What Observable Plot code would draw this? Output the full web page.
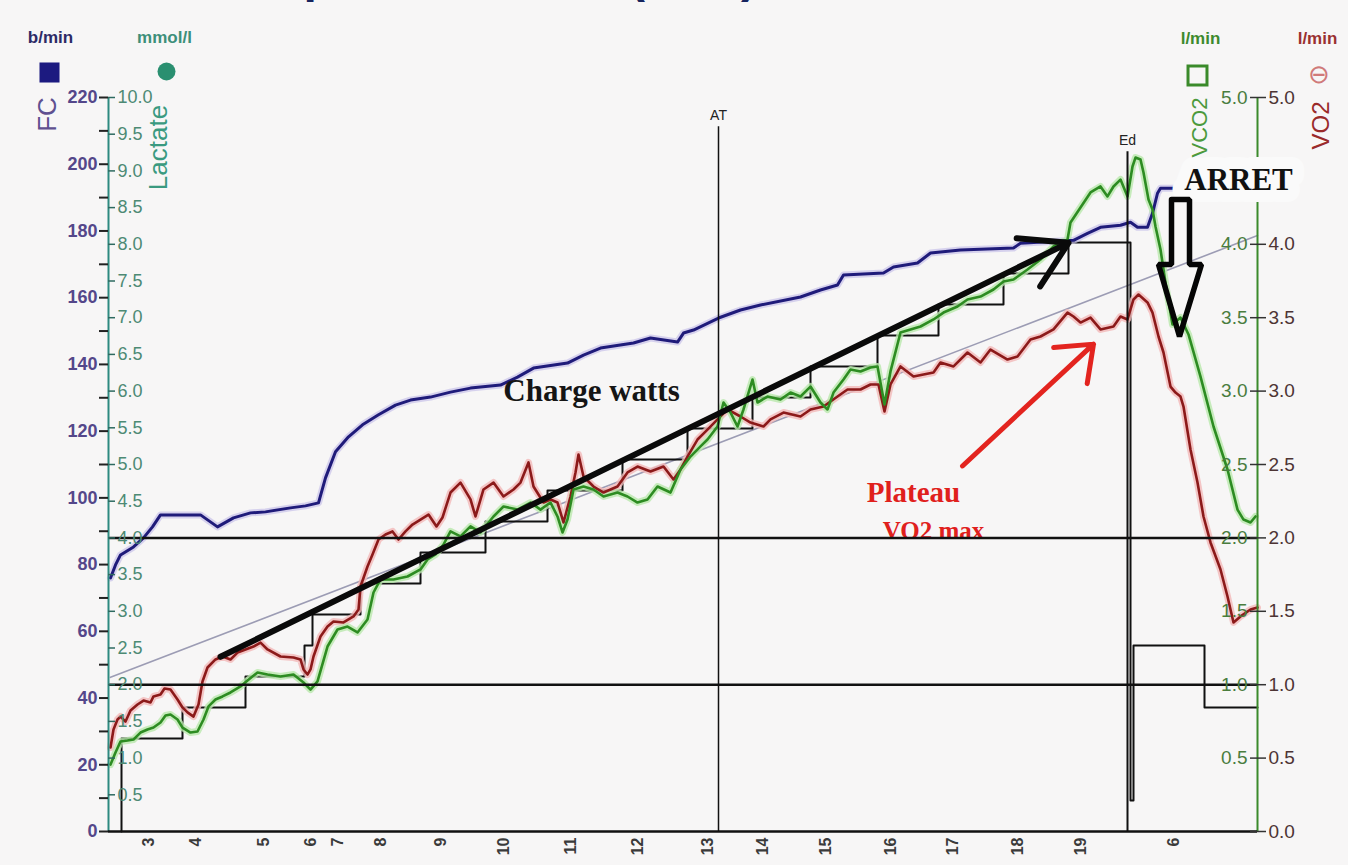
<!DOCTYPE html>
<html>
<head>
<meta charset="utf-8">
<script src="https://cdn.jsdelivr.net/npm/d3@7"></script>
<script src="https://cdn.jsdelivr.net/npm/@observablehq/plot@0.6"></script>
<style>
  html, body { margin: 0; padding: 0; background: #f7f6f6; }
  #chart { width: 1348px; height: 865px; overflow: hidden; }
</style>
</head>
<body>
<div id="chart"></div>
<script>
// Épreuve d'effort : FC, VO2, VCO2, charge (paliers) en fonction du rang d'échantillon.
// Chaque point : [rang, valeur].

// Fréquence cardiaque (b/min)
const fcData = [
  [2,76.0],[7,79.9],[12,82.9],[25,85.3],[35,88.0],[44,91.3],[52,94.9],[92,94.9],[109,91.3],
  [125,94.0],[142,95.5],[157,95.8],[182,97.0],[197,97.6],[210,98.5],[217,106.0],[227,113.8],
  [240,118.3],[254,121.9],[270,124.9],[287,127.8],[302,129.3],[322,130.2],[342,131.7],[362,132.9],
  [392,133.8],[409,136.2],[425,138.9],[459,140.4],[475,142.8],[492,144.9],[525,146.4],[542,147.9],
  [569,146.7],[575,149.4],[585,150.3],[610,153.9],[632,156.3],[652,157.8],[692,160.2],[712,162.3],
  [729,163.8],[735,166.8],[775,167.4],[785,169.2],[809,170.4],[822,173.4],[852,174.3],[905,174.9],
  [912,176.3],[965,177.2],[979,179.3],[992,181.1],[1012,181.7],[1022,182.6],[1029,181.1],
  [1039,181.1],[1044,185.3],[1049,191.3],[1052,192.8],[1069,192.8]
];

// VO2 (l/min)
const vo2Data = [
  [2,0.572],[5,0.695],[9,0.763],[12,0.783],[17,0.749],[22,0.824],[29,0.865],[35,0.892],[42,0.879],
  [45,0.920],[52,0.933],[56,0.974],[62,0.967],[69,0.899],[74,0.845],[79,0.811],[85,0.783],[90,0.865],
  [94,1.022],[99,1.117],[107,1.172],[114,1.192],[122,1.172],[129,1.219],[137,1.240],[145,1.260],
  [152,1.287],[159,1.240],[172,1.192],[185,1.185],[192,1.172],[195,1.104],[199,1.069],[202,1.104],
  [205,1.192],[212,1.328],[219,1.396],[225,1.431],[235,1.424],[245,1.465],[250,1.512],[252,1.669],
  [259,1.805],[264,1.887],[270,1.989],[277,2.023],[284,2.044],[290,1.989],[297,2.044],[304,2.091],
  [312,2.125],[320,2.159],[328,2.078],[334,2.139],[342,2.309],[352,2.377],[362,2.262],[367,2.146],
  [375,2.330],[385,2.377],[395,2.282],[405,2.330],[412,2.377],[420,2.514],[425,2.350],[435,2.241],
  [442,2.262],[449,2.241],[455,2.105],[462,2.282],[467,2.446],[470,2.568],[475,2.418],[485,2.350],
  [495,2.309],[509,2.350],[519,2.446],[529,2.486],[542,2.452],[555,2.486],[565,2.398],[572,2.466],
  [579,2.554],[589,2.670],[599,2.738],[609,2.807],[619,2.875],[632,2.827],[642,2.786],[655,2.759],
  [662,2.807],[675,2.854],[692,2.827],[702,2.875],[715,2.895],[729,2.963],[739,3.011],[752,3.011],
  [762,3.045],[770,3.045],[776,2.861],[782,3.045],[792,3.168],[805,3.099],[825,3.127],[832,3.195],
  [845,3.168],[859,3.263],[872,3.195],[882,3.283],[899,3.215],[909,3.236],[922,3.351],[932,3.372],
  [945,3.420],[959,3.535],[965,3.508],[972,3.467],[982,3.501],[992,3.420],[1005,3.440],[1012,3.508],
  [1019,3.488],[1025,3.624],[1030,3.658],[1039,3.604],[1044,3.535],[1050,3.372],[1055,3.263],
  [1062,3.031],[1067,2.990],[1072,2.963],[1075,2.895],[1082,2.602],[1089,2.377],[1095,2.146],
  [1102,1.969],[1112,1.785],[1119,1.601],[1125,1.424],[1132,1.465],[1142,1.512],[1149,1.526]
];

// VCO2 (l/min)
const vco2Data = [
  [2,0.456],[7,0.538],[12,0.613],[19,0.620],[25,0.627],[32,0.674],[39,0.695],[45,0.708],[52,0.743],
  [57,0.790],[62,0.797],[69,0.763],[74,0.708],[82,0.674],[89,0.681],[95,0.763],[100,0.852],[107,0.899],
  [114,0.920],[122,0.947],[132,0.988],[139,1.029],[149,1.083],[159,1.069],[172,1.056],[185,1.069],
  [195,1.015],[202,0.967],[209,1.022],[219,1.260],[229,1.376],[239,1.396],[249,1.356],[259,1.444],
  [265,1.628],[272,1.717],[285,1.717],[299,1.737],[312,1.785],[319,1.853],[327,1.887],[335,1.955],
  [342,2.044],[352,2.010],[362,2.078],[372,2.037],[385,2.146],[395,2.214],[409,2.193],[422,2.241],
  [432,2.193],[442,2.241],[449,2.146],[454,2.037],[459,2.125],[465,2.330],[475,2.350],[485,2.330],
  [495,2.282],[509,2.309],[519,2.282],[529,2.241],[539,2.262],[549,2.350],[562,2.309],[572,2.466],
  [582,2.554],[592,2.623],[599,2.670],[609,2.759],[615,2.922],[622,2.854],[629,2.759],[635,2.875],
  [644,3.079],[649,2.922],[659,2.963],[672,2.943],[682,2.990],[692,2.963],[702,3.031],[712,2.922],
  [719,2.875],[725,2.990],[735,3.079],[742,3.147],[752,3.134],[762,3.161],[769,3.168],[776,2.909],
  [782,3.134],[792,3.399],[802,3.420],[812,3.440],[825,3.488],[835,3.535],[849,3.576],[859,3.624],
  [872,3.644],[885,3.692],[895,3.747],[905,3.760],[919,3.828],[932,3.896],[945,3.985],[959,4.033],
  [962,4.149],[972,4.251],[982,4.353],[992,4.394],[999,4.326],[1005,4.394],[1012,4.441],[1019,4.326],
  [1024,4.530],[1027,4.591],[1032,4.578],[1035,4.489],[1040,4.305],[1044,4.237],[1047,4.121],
  [1052,3.965],[1058,3.692],[1064,3.454],[1072,3.501],[1080,3.386],[1092,3.099],[1105,2.759],
  [1119,2.466],[1129,2.193],[1135,2.125],[1142,2.105],[1147,2.146]
];

// Charge (W) par palier : [rang de début, watts]
const loadSteps = [
  [13,0],[13,60],[74,80],[137,100],[196,120],[204,140],[252,160],[312,180],[377,200],[439,220],
  [514,240],[579,260],[644,280],[702,300],[769,320],[830,340],[895,360],[960,380],[1022,20],
  [1025,120],[1096,80],[1149,80]
];
const wattsPerUnit = 94.7; // 5 l/min of height correspond to 473.5 W

// Droite de référence (l/min)
const refLine = [[2,1.05],[1149,4.06]];

// Seuils lactiques (mmol/l)
const lactateThresholds = [2, 4];

// Repères verticaux
const markers = [
  {label: "AT", rang: 610, top: 4.80, width: 1.5},
  {label: "Ed", rang: 1019, top: 4.63, width: 2}
];

// Graduations
const fcTickValues = [0,10,20,30,40,50,60,70,80,90,100,110,120,130,140,150,160,170,180,190,200,210,220];
const fcTickLabels = [0,20,40,60,80,100,120,140,160,180,200,220];
const lactateTickLabels = [0.5,1,1.5,2,2.5,3,3.5,4,4.5,5,5.5,6,6.5,7,7.5,8,8.5,9,9.5,10];
const vco2TickLabels = [0.5,1,1.5,2,2.5,3,3.5,4,5];
const vo2TickLabels = [0,0.5,1,1.5,2,2.5,3,3.5,4,5];
const minuteRang = [40,87,155,202,229,272,332,395,462,529,599,654,717,782,844,909,972,1065];
const minuteLabels = ["3","4","5","6","7","8","9","10","11","12","13","14","15","16","17","18","19","6"];

// Annotations
const textNotes = [
  {text: "Charge watts", rang: 483, y: 3.00, fill: "#151515", size: 31, spacing: "0px"},
  {text: "Plateau", rang: 805, y: 2.31, fill: "#e0201c", size: 29, spacing: "2px"},
  {text: "VO2 max", rang: 825, y: 2.05, fill: "#e0201c", size: 25, spacing: "0px"}
];
const chargeArrow = [{x1: 112, y1: 1.19, x2: 960, y2: 4.01}];
const plateauArrow = [{x1: 854, y1: 2.49, x2: 985, y2: 3.32}];
const arretNote = [{text: "ARRET", rang: 1130, y: 4.44}];
const arretArrow = [[1063,4.305],[1081,4.305],[1081,3.862],[1093,3.862],[1071,3.372],[1050,3.862],[1063,3.862],[1063,4.305]];

// ---- conversions to the shared vertical scale (0–5, right axis in l/min) ----
const series = (arr, k) => arr.map(([i, v]) => ({i, y: v / k}));
const fcPts = series(fcData, 44);            // 220 b/min ↔ 5
const vo2Pts = series(vo2Data, 1);
const vco2Pts = series(vco2Data, 1);
const loadPts = series(loadSteps, wattsPerUnit);
const refPts = series(refLine, 1);
const arretPts = series(arretArrow, 1);
const xTicks = minuteRang.map((i, k) => ({i, label: minuteLabels[k]}));

const sans = "Liberation Sans, Arial, sans-serif";
const serif = "Liberation Serif, Times New Roman, serif";

// header text helper: centred at an offset from a frame corner
const head = (txt, corner, dx, dy, opts) => Plot.text([txt], {
  frameAnchor: corner, dx, dy, textAnchor: "middle", lineAnchor: "middle", ...opts
});

const chart = Plot.plot({
  width: 1348,
  height: 865,
  marginLeft: 108,
  marginRight: 91,
  marginTop: 97,
  marginBottom: 34,
  x: {domain: [0, 1149], axis: null},
  y: {domain: [0, 5], label: null},
  style: {background: "transparent", fontFamily: sans, overflow: "visible"},
  marks: [
    // reference line
    Plot.line(refPts, {x: "i", y: "y", stroke: "#9c9cb4", strokeWidth: 1.6}),
    // workload steps
    Plot.line(loadPts, {x: "i", y: "y", curve: "step-after", stroke: "#111", strokeWidth: 2}),
    // halos
    Plot.line(fcPts, {x: "i", y: "y", stroke: "#c8c2ea", strokeWidth: 7, strokeOpacity: 0.7}),
    Plot.line(vo2Pts, {x: "i", y: "y", stroke: "#f3b9b9", strokeWidth: 7, strokeOpacity: 0.8}),
    Plot.line(vco2Pts, {x: "i", y: "y", stroke: "#b9e8ad", strokeWidth: 7, strokeOpacity: 0.8}),
    // series
    Plot.line(fcPts, {x: "i", y: "y", stroke: "#1f1b7a", strokeWidth: 3}),
    Plot.line(vo2Pts, {x: "i", y: "y", stroke: "#8c1a1a", strokeWidth: 2.6}),
    Plot.line(vco2Pts, {x: "i", y: "y", stroke: "#2d8c22", strokeWidth: 2.6}),
    // annotation text (below the threshold line)
    ...textNotes.map(d => Plot.text([d], {x: "rang", y: "y", text: "text", fill: d.fill, fontSize: d.size,
      fontFamily: serif, fontWeight: "bold", letterSpacing: d.spacing})),
    // lactate thresholds
    Plot.ruleY(lactateThresholds.map(l => l / 2), {stroke: "#111", strokeWidth: 2.5}),
    // AT / Ed markers
    Plot.ruleX(markers, {x: "rang", y1: 0, y2: "top", stroke: "#111", strokeWidth: "width"}),
    Plot.text(markers, {x: "rang", y: "top", text: "label", dy: -11, fontSize: 14, fill: "#222"}),
    // arrows
    Plot.arrow(chargeArrow, {x1: "x1", y1: "y1", x2: "x2", y2: "y2", stroke: "#0a0a0a",
      strokeWidth: 6, headLength: 13, headAngle: 62}),
    Plot.arrow(plateauArrow, {x1: "x1", y1: "y1", x2: "x2", y2: "y2", stroke: "#e3241f",
      strokeWidth: 5, headLength: 12, headAngle: 76}),
    // axes lines
    Plot.ruleX([0], {y1: 0, y2: 5, stroke: "#2e8a80", strokeWidth: 2}),
    Plot.ruleX([1149], {y1: 0, y2: 5, stroke: "#3b8a2b", strokeWidth: 2}),
    Plot.ruleY([0], {stroke: "#111", strokeWidth: 2.5}),
    // ARRET label on a white patch
    Plot.text(arretNote, {x: "rang", y: "y", text: "text", fontSize: 31, fontFamily: serif,
      fontWeight: "bold", fill: "#111", stroke: "#fafafa", strokeWidth: 24, paintOrder: "stroke"}),
    Plot.line(arretPts, {x: "i", y: "y", stroke: "#050505", strokeWidth: 5.5, strokeLinejoin: "miter"}),
    // left axis ticks
    Plot.axisY(fcTickValues.map(v => v / 44), {anchor: "left", tickSize: 9, tickFormat: () => "",
      stroke: "#222", strokeWidth: 2, label: null}),
    Plot.axisY(lactateTickLabels.map(v => v / 2), {anchor: "left", tickSize: -7, tickFormat: () => "",
      stroke: "#2e6a60", strokeWidth: 1.5, label: null}),
    Plot.text(fcTickLabels, {y: d => d / 44, text: d => String(d), frameAnchor: "left", dx: -11,
      textAnchor: "end", fill: "#54478a", fontSize: 18, fontWeight: "bold", letterSpacing: "-1.5px"}),
    Plot.text(lactateTickLabels, {y: d => d / 2, text: d => d.toFixed(1), frameAnchor: "left", dx: 9,
      textAnchor: "start", fill: "#4d8a74", fontSize: 18, letterSpacing: "-0.5px"}),
    // right axis ticks
    Plot.axisY(vo2TickLabels, {anchor: "right", tickSize: 8, tickFormat: () => "", stroke: "#333",
      strokeWidth: 1.5, label: null}),
    Plot.axisY(vo2TickLabels, {anchor: "right", tickSize: -8, tickFormat: () => "", stroke: "#333",
      strokeWidth: 1.5, label: null}),
    Plot.text(vco2TickLabels, {y: d => d, text: d => d.toFixed(1), frameAnchor: "right", dx: -10,
      textAnchor: "end", fill: "#4a7d3e", fontSize: 19, letterSpacing: "-0.5px"}),
    Plot.text(vo2TickLabels, {y: d => d, text: d => d.toFixed(1), frameAnchor: "right", dx: 11,
      textAnchor: "start", fill: "#4d3434", fontSize: 19, letterSpacing: "-0.5px"}),
    // minute labels
    Plot.text(xTicks, {x: "i", text: "label", frameAnchor: "bottom", rotate: -90, textAnchor: "end",
      lineAnchor: "middle", dy: 6, fontSize: 16, fontWeight: "bold", fill: "#3a3a3a"}),
    // header: title (cropped at the top edge), units, symbols, series names
    Plot.text(["Exemple de courbe (VO2)"], {frameAnchor: "top-left", dx: 67, dy: -121,
      textAnchor: "start", lineAnchor: "middle", fontSize: 48, fontWeight: "bold", fill: "#16245e"}),
    head("b/min", "top-left", -58, -60, {fontSize: 17, fontWeight: "bold", fill: "#2d2a66"}),
    head("mmol/l", "top-left", 56, -60, {fontSize: 17, fontWeight: "bold", fill: "#3d8f7a"}),
    Plot.dot([0], {frameAnchor: "top-left", dx: -59, dy: -25, symbol: "square", r: 11.3, fill: "#1c1a80"}),
    Plot.dot([0], {frameAnchor: "top-left", dx: 58, dy: -26, r: 9, fill: "#2a8f70"}),
    head("FC", "top-left", -61, 17, {rotate: -90, fontSize: 26, fill: "#5f5090"}),
    head("Lactate", "top-left", 50, 50, {rotate: -90, fontSize: 26, fill: "#3a9a80"}),
    head("l/min", "top-right", -57, -59, {fontSize: 17, fontWeight: "bold", fill: "#3d8a2d"}),
    head("l/min", "top-right", 60, -59, {fontSize: 17, fontWeight: "bold", fill: "#9a3030"}),
    Plot.dot([0], {frameAnchor: "top-right", dx: -60, dy: -22, symbol: "square", r: 10.7, fill: "none",
      stroke: "#3a8a2a", strokeWidth: 3}),
    head("⊖", "top-right", 61, -23, {fontSize: 26, fill: "#d07a7a"}),
    head("VCO2", "top-right", -58, 30, {rotate: -90, fontSize: 22, fill: "#4c9a3c"}),
    head("VO2", "top-right", 64, 28, {rotate: -90, fontSize: 24, fill: "#9a2a2a"})
  ]
});

document.getElementById("chart").appendChild(chart);
</script>
</body>
</html>
